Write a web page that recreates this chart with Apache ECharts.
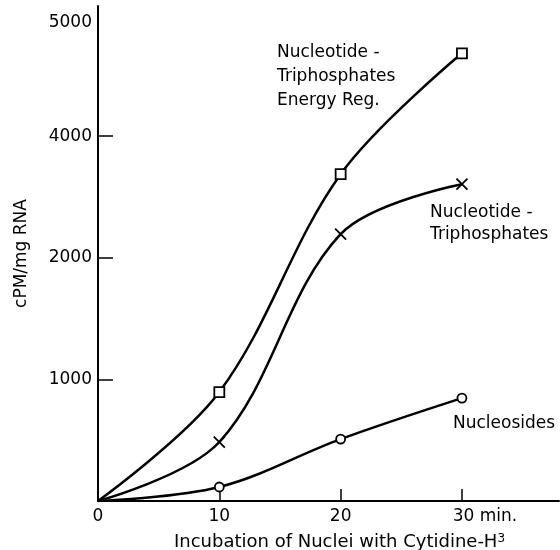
<!DOCTYPE html>
<html>
<head>
<meta charset="utf-8">
<script src="https://cdn.jsdelivr.net/npm/echarts@6/dist/echarts.min.js"></script>
<style>
  html, body { margin: 0; padding: 0; background: #fff; }
  #chart { width: 560px; height: 550px; }
</style>
</head>
<body>
<div id="chart"></div>
<script>
// incubation time (min.)
const minutes = [0, 10, 20, 30];
// cpm/mg RNA (in the figure's own axis units)
const triphosEnergy = [0, 896, 2687, 3681];
const triphos = [0, 485, 2194, 2605];
const nucleosides = [0, 115, 509, 846];

// tick labels as printed in the original (third tick reads 4000)
const xTicks = [0, 10, 20, 30];
const xTickLabels = ['0', '10', '20', '30 min.'];
const yTicks = [1000, 2000, 3000, 4000];
const yTickLabels = ['1000', '2000', '4000', '5000'];

const FONT = 'DejaVu Sans';
const INK = '#000';

function pairs(vals) {
  return minutes.map((m, i) => [m, vals[i]]);
}
// no marker at the origin
function sym(name) {
  return function (v) { return v[0] === 0 ? 'none' : name; };
}

let myChart = echarts.init(document.getElementById('chart'));
let option = {
  animation: false,
  backgroundColor: '#fff',
  textStyle: { fontFamily: FONT, color: INK },
  grid: { left: 98, right: 1, top: 6, bottom: 49, outerBoundsMode: 'none', containLabel: false },
  xAxis: {
    type: 'value',
    min: 0,
    max: 38,
    name: '{t|Incubation of Nuclei with Cytidine-H}{s|3}',
    nameLocation: 'middle',
    nameGap: 32,
    nameTextStyle: {
      rich: {
        t: { fontFamily: FONT, fontSize: 18, color: INK },
        s: { fontFamily: FONT, fontSize: 12, color: INK, verticalAlign: 'top' }
      },
      padding: [0, 0, 0, 22]
    },
    axisLine: { lineStyle: { color: INK, width: 2 } },
    axisTick: { inside: true, length: 12, lineStyle: { color: INK, width: 1.5 }, customValues: [10, 20, 30] },
    axisLabel: {
      customValues: xTicks,
      margin: 7,
      fontSize: 17,
      color: INK,
      formatter: function (v) {
        let i = xTicks.indexOf(v);
        if (i < 0) return '';
        if (i === xTicks.length - 1) return '{m|' + xTickLabels[i] + '}';
        return xTickLabels[i];
      },
      rich: { m: { fontFamily: FONT, fontSize: 17, color: INK, padding: [0, 0, 0, 46] } }
    },
    splitLine: { show: false }
  },
  yAxis: {
    type: 'value',
    min: 0,
    max: 4070,
    name: 'cPM/mg RNA',
    nameLocation: 'middle',
    nameRotate: 90,
    nameGap: 68,
    nameTextStyle: { fontSize: 17, color: INK, fontFamily: FONT },
    axisLine: { show: true, lineStyle: { color: INK, width: 2 } },
    axisTick: { show: true, inside: true, length: 15, lineStyle: { color: INK, width: 1.5 }, customValues: [1000, 2000, 3000] },
    axisLabel: {
      customValues: yTicks,
      margin: 6,
      fontSize: 17,
      color: INK,
      formatter: function (v) {
        let i = yTicks.indexOf(v);
        if (i < 0) return '';
        // top label sits a little below the axis end in the original
        if (i === yTicks.length - 1) return '{top|' + yTickLabels[i] + '}';
        return yTickLabels[i];
      },
      rich: { top: { fontFamily: FONT, fontSize: 17, color: INK, padding: [16, 0, 0, 0] } }
    },
    splitLine: { show: false }
  },
  series: [
    {
      name: 'Nucleotide-Triphosphates Energy Reg.',
      type: 'line',
      smooth: 0.35,
      data: pairs(triphosEnergy),
      symbol: sym('rect'),
      symbolSize: 10,
      lineStyle: { color: INK, width: 2.5 },
      itemStyle: { color: '#fff', borderColor: INK, borderWidth: 1.8 },
      z: 3
    },
    {
      name: 'Nucleotide-Triphosphates',
      type: 'line',
      smooth: 0.35,
      data: pairs(triphos),
      symbol: sym('path://M0,0L10,10M10,0L0,10'),
      symbolSize: 11,
      lineStyle: { color: INK, width: 2.5 },
      itemStyle: { color: INK, borderColor: INK, borderWidth: 1.8 },
      z: 3
    },
    {
      name: 'Nucleosides',
      type: 'line',
      smooth: 0.35,
      data: pairs(nucleosides),
      symbol: sym('circle'),
      symbolSize: 9,
      lineStyle: { color: INK, width: 2.5 },
      itemStyle: { color: '#fff', borderColor: INK, borderWidth: 1.8 },
      z: 3
    }
  ],
  graphic: [
    {
      type: 'text', left: 277, top: 41,
      style: { text: 'Nucleotide -\nTriphosphates\nEnergy Reg.', font: '17px "DejaVu Sans"', fill: INK, lineHeight: 24 }
    },
    {
      type: 'text', left: 430, top: 202,
      style: { text: 'Nucleotide -\nTriphosphates', font: '17px "DejaVu Sans"', fill: INK, lineHeight: 22 }
    },
    {
      type: 'text', left: 453, top: 415,
      style: { text: 'Nucleosides', font: '17px "DejaVu Sans"', fill: INK }
    }
  ]
};

myChart.setOption(option);
window.onresize = myChart.resize;
</script>
</body>
</html>
